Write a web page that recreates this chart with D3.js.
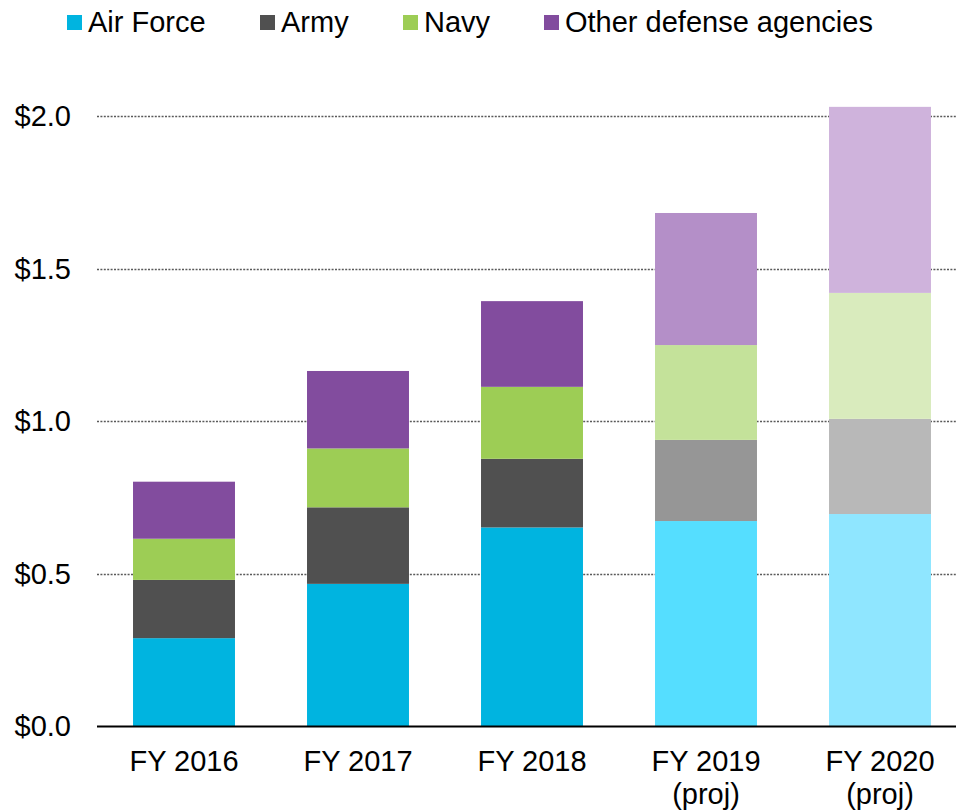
<!DOCTYPE html>
<html lang="en">
<head>
  <meta charset="UTF-8">
  <title>Defense spending by branch</title>
  <script src="https://d3js.org/d3.v7.min.js"></script>
  <style>
    body { margin: 0; background: #fff; font-family: "Liberation Sans", Arial, sans-serif; }
    svg { display: block; }
    text { fill: #000; }
  </style>
</head>
<body>
  <svg width="956" height="812"></svg>

  <script>
    // Fiscal years (second line shown under projected years)
    const years = ["FY 2016", "FY 2017", "FY 2018", "FY 2019", "FY 2020"];
    const yearNotes = ["", "", "", "(proj)", "(proj)"];

    // Values in $ billions, stacked bottom to top
    const airForce = [0.288, 0.466, 0.651, 0.672, 0.695];
    const army     = [0.191, 0.251, 0.225, 0.266, 0.312];
    const navy     = [0.135, 0.193, 0.236, 0.311, 0.413];
    const other    = [0.187, 0.254, 0.281, 0.433, 0.610];

    const seriesNames = ["Air Force", "Army", "Navy", "Other defense agencies"];
    const yTicks = [0, 0.5, 1.0, 1.5, 2.0];

    // colours: actual years, 2019 projection, 2020 projection
    const shades = {
      "Air Force": ["#00b4e0", "#55deff", "#8fe6ff"],
      "Army": ["#505050", "#969696", "#b8b8b8"],
      "Navy": ["#9dcd55", "#c4e29a", "#d9ebbd"],
      "Other defense agencies": ["#824c9e", "#b48fc8", "#cfb3dc"]
    };
    const shadeIndex = [0, 0, 0, 1, 2];

    const table = years.map((y, i) => ({
      year: y,
      "Air Force": airForce[i],
      "Army": army[i],
      "Navy": navy[i],
      "Other defense agencies": other[i]
    }));

    const svg = d3.select("svg");
    const plotLeft = 97, plotRight = 967, plotTop = 116, plotBottom = 726;

    const x = d3.scaleBand()
      .domain(years)
      .range([plotLeft, plotRight])
      .paddingInner(0.414)
      .paddingOuter(0.207);

    const y = d3.scaleLinear()
      .domain([0, 2.0])
      .range([plotBottom, plotTop]);

    // gridlines
    svg.append("g")
      .selectAll("line")
      .data(yTicks.filter(d => d > 0))
      .join("line")
        .attr("x1", plotLeft)
        .attr("x2", 956)
        .attr("y1", d => Math.round(y(d)) + 0.5)
        .attr("y2", d => Math.round(y(d)) + 0.5)
        .attr("stroke", "#5a5a5a")
        .attr("stroke-width", 1.6)
        .attr("stroke-dasharray", "2,1.4");

    // y tick labels
    svg.append("g")
      .selectAll("text")
      .data(yTicks)
      .join("text")
        .attr("x", 71)
        .attr("y", d => y(d))
        .attr("dy", "0.35em")
        .attr("text-anchor", "end")
        .style("font-size", "29px")
        .text(d => "$" + d3.format(".1f")(d));

    // stacked bars
    const stack = d3.stack().keys(seriesNames);
    const layers = stack(table);

    svg.append("g")
      .selectAll("g")
      .data(layers)
      .join("g")
      .selectAll("rect")
      .data(d => d.map((v, i) => ({ key: d.key, v, i })))
      .join("rect")
        .attr("x", d => x(years[d.i]))
        .attr("width", x.bandwidth())
        .attr("y", d => y(d.v[1]))
        .attr("height", d => y(d.v[0]) - y(d.v[1]))
        .attr("fill", d => shades[d.key][shadeIndex[d.i]]);

    // baseline
    svg.append("line")
      .attr("x1", plotLeft)
      .attr("x2", 956)
      .attr("y1", plotBottom + 0.5)
      .attr("y2", plotBottom + 0.5)
      .attr("stroke", "#000")
      .attr("stroke-width", 2);

    // x labels
    const xl = svg.append("g")
      .selectAll("text")
      .data(years)
      .join("text")
        .attr("x", d => x(d) + x.bandwidth() / 2)
        .attr("y", 771)
        .attr("text-anchor", "middle")
        .style("font-size", "29px");
    xl.append("tspan").text(d => d);
    xl.append("tspan")
      .attr("x", d => x(d) + x.bandwidth() / 2)
      .attr("dy", 33)
      .text((d, i) => yearNotes[i]);

    // legend
    const legendX = [67, 260, 403, 544];
    const legend = svg.append("g")
      .selectAll("g")
      .data(seriesNames)
      .join("g")
        .attr("transform", (d, i) => `translate(${legendX[i]},15)`);
    legend.append("rect")
      .attr("width", 15)
      .attr("height", 15)
      .attr("fill", d => shades[d][0]);
    legend.append("text")
      .attr("x", 21)
      .attr("y", 17)
      .style("font-size", "29px")
      .text(d => d);
  </script>
</body>
</html>
